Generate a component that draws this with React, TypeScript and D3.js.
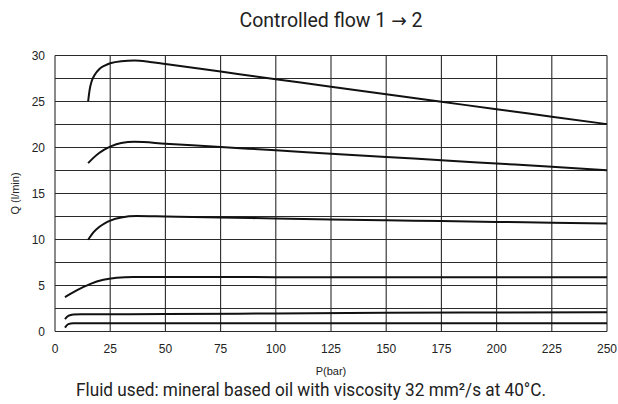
import React from 'react';
import * as d3 from 'd3';

// curves: [P (bar), Q (l/min)]
const curve30: [number, number][] = [
  [15, 25], [15.7, 26.3], [16.6, 27.2], [18, 27.9], [20, 28.5], [22.5, 28.9], [25, 29.15],
  [30, 29.38], [36, 29.45], [43, 29.3], [50, 29.07], [75, 28.25], [100, 27.43], [125, 26.6],
  [150, 25.8], [175, 24.98], [200, 24.15], [225, 23.35], [250, 22.54],
];
const curve20: [number, number][] = [
  [15, 18.3], [17.5, 18.9], [20, 19.4], [22.5, 19.8], [25, 20.1], [30, 20.5], [36, 20.62],
  [50, 20.42], [75, 20.05], [100, 19.7], [125, 19.33], [150, 18.97], [175, 18.62], [200, 18.26],
  [225, 17.9], [250, 17.54],
];
const curve12: [number, number][] = [
  [15, 9.97], [17.5, 10.8], [20, 11.35], [22.5, 11.75], [25, 12.05], [30, 12.4], [37, 12.55],
  [50, 12.5], [75, 12.4], [100, 12.28], [125, 12.17], [150, 12.08], [175, 12.0], [200, 11.91],
  [225, 11.83], [250, 11.74],
];
const curve6: [number, number][] = [
  [4.5, 3.74], [9.8, 4.46], [15.8, 5.15], [21.9, 5.62], [27.9, 5.84], [35.5, 5.93], [50, 5.92],
  [100, 5.91], [150, 5.91], [200, 5.9], [250, 5.9],
];
const curve2: [number, number][] = [
  [4.5, 1.35], [6, 1.7], [8.3, 1.86], [12, 1.88], [50, 1.89], [100, 1.96], [150, 2.03],
  [200, 2.06], [250, 2.08],
];
const curve1: [number, number][] = [
  [4.5, 0.43], [6, 0.8], [8.3, 0.9], [12, 0.91], [50, 0.9], [150, 0.9], [250, 0.9],
];
const curves = [curve30, curve20, curve12, curve6, curve2, curve1];

const xTicks = [0, 25, 50, 75, 100, 125, 150, 175, 200, 225, 250];
const yTicks = [0, 5, 10, 15, 20, 25, 30];
const yGrid = [0, 2.5, 5, 7.5, 10, 12.5, 15, 17.5, 20, 22.5, 25, 27.5, 30];

const footer = 'Fluid used: mineral based oil with viscosity 32 mm\u00b2/s at 40\u00b0C.';

export default function App() {
  const W = 618, H = 404;
  const margin = { top: 55.5, right: 11, bottom: 72.5, left: 55 };
  const x = d3.scaleLinear().domain([0, 250]).range([margin.left, W - margin.right]);
  const y = d3.scaleLinear().domain([0, 30]).range([H - margin.bottom, margin.top]);
  const line = d3.line<[number, number]>()
    .x(d => x(d[0]))
    .y(d => y(d[1]))
    .curve(d3.curveMonotoneX);
  const grid = '#2a2a2a';
  const tickFont = '"Liberation Sans", Arial, sans-serif';
  const condFont = 'Roboto, "Liberation Sans", sans-serif';

  return (
    <svg width={W} height={H} style={{ position: 'absolute', left: 0, top: 0, background: '#fff' }}>
      {/* grid */}
      {yGrid.map(v => (
        <line key={'h' + v} x1={x(0)} x2={x(250)} y1={y(v)} y2={y(v)} stroke={grid} strokeWidth={1.1} />
      ))}
      {xTicks.map(v => (
        <line key={'v' + v} x1={x(v)} x2={x(v)} y1={y(0)} y2={y(30)} stroke={grid} strokeWidth={1.1} />
      ))}
      {/* curves */}
      {curves.map((c, i) => (
        <path key={i} d={line(c) || ''} fill="none" stroke="#111" strokeWidth={2} strokeLinecap="butt" />
      ))}
      {/* tick labels */}
      {xTicks.map(v => (
        <text key={'xt' + v} x={x(v)} y={y(0) + 21} textAnchor="middle" fontFamily={tickFont} fontSize={12} fill="#222">{v}</text>
      ))}
      {yTicks.map(v => (
        <text key={'yt' + v} x={x(0) - 10} y={y(v) + 4.5} textAnchor="end" fontFamily={tickFont} fontSize={12} fill="#222">{v}</text>
      ))}
      <text x={x(125)} y={y(0) + 43} textAnchor="middle" fontFamily={tickFont} fontSize={11} fill="#222">P(bar)</text>
      <text transform={`translate(19,${y(15)}) rotate(-90)`} textAnchor="middle" fontFamily={tickFont} fontSize={11} fill="#222">Q (l/min)</text>
      {/* title and footer */}
      <text x={331} y={27} textAnchor="middle" fontFamily={condFont} fontSize={20} fill="#222"
        textLength={183} lengthAdjust="spacingAndGlyphs">
        Controlled flow 1 <tspan fontFamily='"DejaVu Sans", sans-serif' fontSize={19}>{'\u2192'}</tspan> 2
      </text>
      <text x={311} y={396} textAnchor="middle" fontFamily={condFont} fontSize={18} fill="#222"
        textLength={470} lengthAdjust="spacingAndGlyphs">{footer}</text>
    </svg>
  );
}
